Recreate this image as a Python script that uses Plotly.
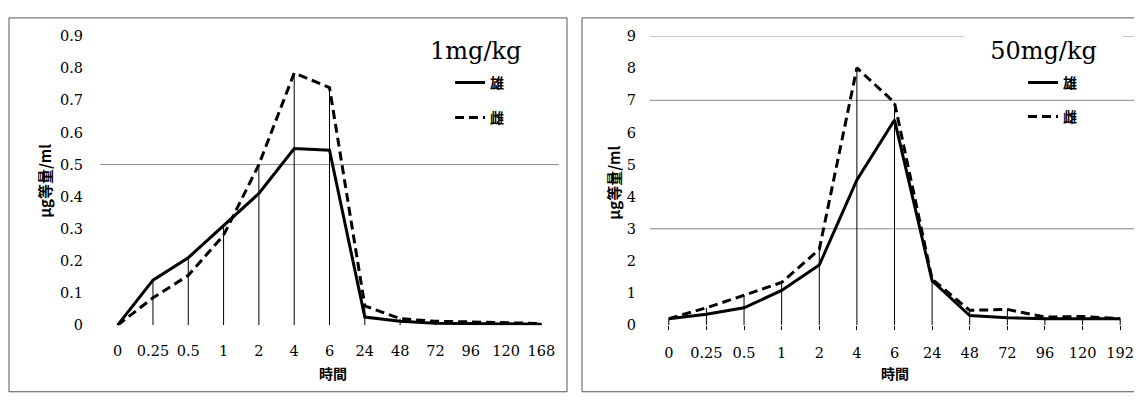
import plotly.graph_objects as go

# page body has an 8px default margin; figure is sized to fit the 1142x402 window
OFF = 8
WF, HF = 1142 - 2 * OFF, 402 - 2 * OFF

categories_left = ["0", "0.25", "0.5", "1", "2", "4", "6", "24", "48", "72", "96", "120", "168"]
male_left = [0, 0.14, 0.21, 0.31, 0.41, 0.55, 0.545, 0.025, 0.012, 0.006, 0.005, 0.005, 0.003]
female_left = [0, 0.085, 0.155, 0.28, 0.50, 0.785, 0.74, 0.06, 0.02, 0.012, 0.01, 0.008, 0.005]

categories_right = ["0", "0.25", "0.5", "1", "2", "4", "6", "24", "48", "72", "96", "120", "192"]
male_right = [0.2, 0.34, 0.54, 1.08, 1.87, 4.52, 6.39, 1.38, 0.30, 0.23, 0.2, 0.2, 0.2]
female_right = [0.2, 0.54, 0.93, 1.33, 2.36, 8.01, 6.93, 1.43, 0.46, 0.49, 0.25, 0.27, 0.2]

left_ticks_y = [0, 0.1, 0.2, 0.3, 0.4, 0.5, 0.6, 0.7, 0.8, 0.9]
right_ticks_y = [0, 1, 2, 3, 4, 5, 6, 7, 8, 9]
left_grid = [0.5]
right_grid = [3, 7, 9]

male_name = "雄"
female_name = "雌"
y_title = "μg等量/ml"
x_title = "時間"
left_dose = "1mg/kg"
right_dose = "50mg/kg"

SERIF = "DejaVu Serif"
CJK = "Noto Sans CJK JP"


def px(x):
    return (x - OFF) / WF


def py(y):
    return 1 - (y - OFF) / HF


fig = go.Figure()


def add_panel(cats, male, female, xa, ya, legend):
    idx = list(range(len(cats)))
    dx, dy = [], []
    for i, (m, f) in enumerate(zip(male, female)):
        dx += [i, i, None]
        dy += [0, max(m, f), None]
    fig.add_trace(go.Scatter(x=dx, y=dy, mode="lines", line=dict(color="black", width=1),
                             showlegend=False, hoverinfo="skip", xaxis=xa, yaxis=ya))
    fig.add_trace(go.Scatter(x=idx, y=male, mode="lines", name=male_name,
                             line=dict(color="black", width=3), legend=legend,
                             legendgroup=legend + "m", xaxis=xa, yaxis=ya))
    fig.add_trace(go.Scatter(x=idx, y=female, mode="lines", name=female_name,
                             line=dict(color="black", width=3, dash="9px,5px"), legend=legend,
                             legendgroup=legend + "f", xaxis=xa, yaxis=ya))


add_panel(categories_left, male_left, female_left, "x", "y", "legend")
add_panel(categories_right, male_right, female_right, "x2", "y2", "legend2")

ydom = [py(330.5), py(29)]
tickfont = dict(family=SERIF, size=14.5, color="black")

# right panel: category 0 at 669px, 37.6px per category, plot runs to window edge
r_left, r_right, r_c0, r_step = 650, 1134, 669, 37.6
r_end = (r_right - r_c0) / r_step

fig.update_layout(
    width=WF, height=HF, margin=dict(l=0, r=0, t=0, b=0),
    paper_bgcolor="white", plot_bgcolor="white",
    xaxis=dict(domain=[px(100), px(559)], range=[-0.5, 12.5],
               tickvals=list(range(len(categories_left))), ticktext=categories_left,
               showgrid=False, zeroline=False, showline=False, ticks="",
               ticklabelstandoff=15, tickfont=tickfont),
    yaxis=dict(domain=ydom, range=[0, 0.9], tickvals=left_ticks_y,
               ticktext=[("%g" % v) for v in left_ticks_y],
               showgrid=False, zeroline=False, showline=False, ticks="",
               ticklabelstandoff=16, tickfont=tickfont),
    xaxis2=dict(domain=[px(r_left), 1.0], range=[-0.5, r_end], anchor="y2",
                tickvals=list(range(len(categories_right))), ticktext=categories_right,
                showgrid=False, zeroline=False, showline=False,
                ticks="outside", ticklen=4, tickcolor="black", tickwidth=1,
                ticklabelstandoff=10, tickfont=tickfont, ticklabeloverflow="allow"),
    yaxis2=dict(domain=ydom, range=[0, 9], anchor="x2", tickvals=right_ticks_y,
                showgrid=False, zeroline=False, showline=False, ticks="",
                ticklabelstandoff=13, tickfont=tickfont),
    legend=dict(x=px(450), y=py(61), xanchor="left", yanchor="top",
                bgcolor="rgba(0,0,0,0)", tracegroupgap=14, traceorder="grouped",
                font=dict(family=CJK, size=14, color="black", weight="bold")),
    legend2=dict(x=px(1023), y=py(61), xanchor="left", yanchor="top",
                 bgcolor="rgba(0,0,0,0)", tracegroupgap=13, traceorder="grouped",
                 font=dict(family=CJK, size=14, color="black", weight="bold")),
)

shapes = []
for g in left_grid:
    shapes.append(dict(type="line", xref="x domain", yref="y", x0=0, x1=1, y0=g, y1=g,
                       line=dict(color="#8a8a8a", width=1), layer="below"))
for g in right_grid:
    shapes.append(dict(type="line", xref="x2 domain", yref="y2", x0=0, x1=1, y0=g, y1=g,
                       line=dict(color="#8a8a8a", width=1), layer="below"))
shapes.append(dict(type="rect", xref="paper", yref="paper", x0=px(9), x1=px(567),
                   y0=py(400), y1=py(10), line=dict(color="#555", width=1)))
shapes.append(dict(type="rect", xref="paper", yref="paper", x0=px(582), x1=px(1141),
                   y0=py(400), y1=py(10), line=dict(color="#555", width=1)))
fig.update_layout(shapes=shapes)

cjk_bold = dict(family=CJK, size=14, color="black", weight="bold")
ann = [
    dict(text=left_dose, x=px(475), y=py(44), font=dict(family=SERIF, size=24, color="black")),
    dict(text=right_dose, x=px(1043), y=py(44), font=dict(family=SERIF, size=24, color="black"),
         bgcolor="white", width=155, height=38),
    dict(text=x_title, x=px(333), y=py(380), font=cjk_bold),
    dict(text=x_title, x=px(895), y=py(380), font=cjk_bold),
    dict(text=y_title, x=px(45), y=py(180), textangle=-90,
         font=dict(family=CJK, size=15, color="black", weight="bold")),
    dict(text=y_title, x=px(614), y=py(182), textangle=-90,
         font=dict(family=CJK, size=15, color="black", weight="bold")),
]
for a in ann:
    a.update(xref="paper", yref="paper", showarrow=False, xanchor="center", yanchor="middle")
fig.update_layout(annotations=ann)

fig.write_html("out.html")
